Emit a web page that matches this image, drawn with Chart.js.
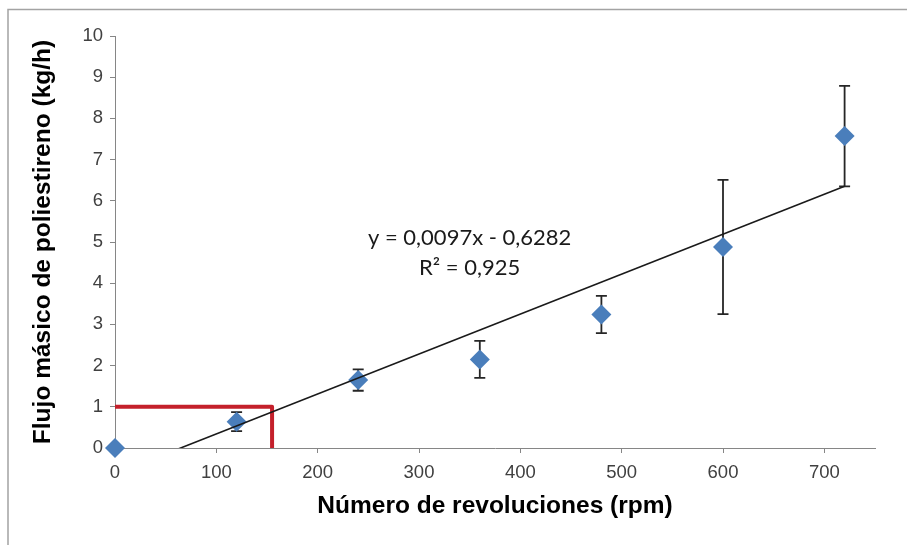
<!DOCTYPE html>
<html>
<head>
<meta charset="utf-8">
<script src="https://cdn.jsdelivr.net/npm/chart.js@4/dist/chart.umd.min.js"></script>
<style>
html,body{margin:0;padding:0;background:#ffffff;}
#wrap{width:907px;height:545px;position:relative;}
</style>
</head>
<body>
<div id="wrap"><canvas id="c" width="907" height="545"></canvas></div>
<script>
// ---- data ----
const rpm = [0, 120, 240, 360, 480, 600, 720];
const flujo = [0, 0.64, 1.65, 2.15, 3.24, 4.88, 7.57];
const errFlujo = [0, 0.23, 0.26, 0.45, 0.45, 1.63, 1.22];
const trendSlope = 0.0097;
const trendIntercept = -0.6282;
const trendX = [0, 720];
const refX = [0, 155, 155];
const refY = [1, 1, 0];
const xTicks = [0, 100, 200, 300, 400, 500, 600, 700];
const yTicks = [0, 1, 2, 3, 4, 5, 6, 7, 8, 9, 10];
const eqLines = ['y = 0,0097x - 0,6282', 'R² = 0,925'];
const xTitle = 'Número de revoluciones (rpm)';
const yTitle = 'Flujo másico de poliestireno (kg/h)';

const pts = rpm.map((x, i) => ({x: x, y: flujo[i]}));
const trendPts = trendX.map(x => ({x: x, y: trendSlope * x + trendIntercept}));
const refPts = refX.map((x, i) => ({x: x, y: refY[i]}));

const framePlugin = {
  id: 'frame',
  beforeDraw(chart) {
    const ctx = chart.ctx;
    ctx.save();
    ctx.fillStyle = '#ffffff';
    ctx.fillRect(0, 0, chart.width, chart.height);
    ctx.strokeStyle = '#a3a3a3';
    ctx.lineWidth = 1.5;
    ctx.beginPath();
    ctx.moveTo(8, chart.height);
    ctx.lineTo(8, 9.5);
    ctx.lineTo(chart.width, 9.5);
    ctx.stroke();
    ctx.restore();
  }
};

const errorBarPlugin = {
  id: 'errorBars',
  beforeDatasetsDraw(chart) {
    const ctx = chart.ctx;
    const xs = chart.scales.x, ys = chart.scales.y;
    ctx.save();
    ctx.strokeStyle = '#262626';
    ctx.lineWidth = 1.8;
    rpm.forEach((x, i) => {
      const e = errFlujo[i];
      if (!e) return;
      const px = xs.getPixelForValue(x);
      const top = ys.getPixelForValue(flujo[i] + e);
      const bot = ys.getPixelForValue(flujo[i] - e);
      ctx.beginPath();
      ctx.moveTo(px, top); ctx.lineTo(px, bot);
      ctx.moveTo(px - 5.5, top); ctx.lineTo(px + 5.5, top);
      ctx.moveTo(px - 5.5, bot); ctx.lineTo(px + 5.5, bot);
      ctx.stroke();
    });
    ctx.restore();
  }
};

const equationPlugin = {
  id: 'equation',
  afterDatasetsDraw(chart) {
    const ctx = chart.ctx;
    const px = chart.scales.x.getPixelForValue(350);
    const py = chart.scales.y.getPixelForValue(5.1);
    ctx.save();
    ctx.fillStyle = '#1a1a1a';
    ctx.font = '22px Lato';
    ctx.textAlign = 'center';
    ctx.textBaseline = 'middle';
    eqLines.forEach((t, k) => ctx.fillText(t, px, py + k * 30));
    ctx.restore();
  }
};

new Chart(document.getElementById('c'), {
  type: 'scatter',
  data: {
    datasets: [
      {
        label: 'Tendencia',
        data: trendPts,
        showLine: true,
        borderColor: '#1a1a1a',
        borderWidth: 1.6,
        pointRadius: 0,
        order: 0
      },
      {
        label: 'Referencia',
        data: refPts,
        showLine: true,
        borderColor: '#c4202b',
        borderWidth: 4,
        borderJoinStyle: 'round',
        pointRadius: 0,
        order: 1
      },
      {
        label: 'Flujo',
        data: pts,
        pointStyle: 'rectRot',
        pointRadius: 10,
        pointBackgroundColor: '#4a7ebb',
        pointBorderColor: '#4a7ebb',
        pointBorderWidth: 0,
        showLine: false,
        clip: false,
        order: 2
      }
    ]
  },
  options: {
    responsive: false,
    animation: false,
    devicePixelRatio: 1,
    layout: {padding: {left: 0, top: 36, right: 32, bottom: 0}},
    plugins: {legend: {display: false}, tooltip: {enabled: false}},
    scales: {
      x: {
        type: 'linear',
        min: 0,
        max: 750,
        afterBuildTicks: s => { s.ticks = xTicks.map(v => ({value: v})); },
        afterFit: s => { s.height = 97; },
        ticks: {
          font: {family: 'Liberation Sans', size: 18.5},
          color: '#404040',
          padding: 9,
          maxRotation: 0,
          autoSkip: false
        },
        grid: {drawOnChartArea: false, drawTicks: true, tickLength: 5, color: '#868686', lineWidth: 1},
        border: {color: '#868686', width: 1},
        title: {
          display: true,
          text: xTitle,
          color: '#000000',
          font: {family: 'Liberation Sans', size: 24.5, weight: 'bold'},
          padding: {top: 0, bottom: 24}
        }
      },
      y: {
        type: 'linear',
        min: 0,
        max: 10,
        afterBuildTicks: s => { s.ticks = yTicks.map(v => ({value: v})); },
        afterFit: s => { s.width = 115; },
        ticks: {
          font: {family: 'Liberation Sans', size: 18.5},
          color: '#404040',
          padding: 7,
          autoSkip: false
        },
        grid: {drawOnChartArea: false, drawTicks: true, tickLength: 5, color: '#868686', lineWidth: 1},
        border: {color: '#868686', width: 1},
        title: {
          display: true,
          text: yTitle,
          color: '#000000',
          font: {family: 'Liberation Sans', size: 24.5, weight: 'bold'},
          padding: {top: 29, bottom: 0}
        }
      }
    }
  },
  plugins: [framePlugin, errorBarPlugin, equationPlugin]
});
</script>
</body>
</html>
